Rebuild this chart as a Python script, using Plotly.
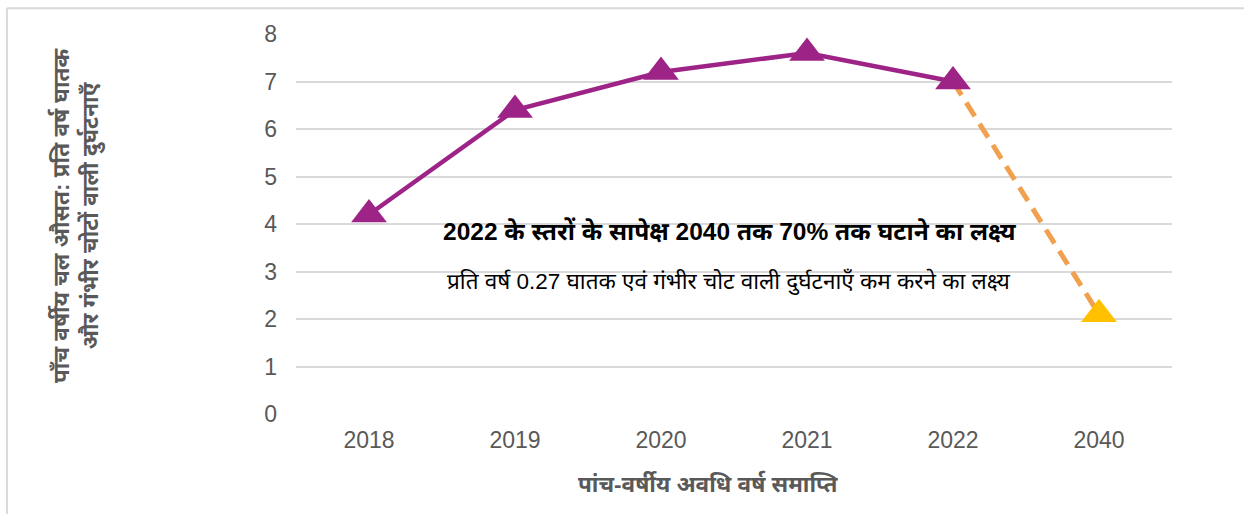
import plotly.graph_objects as go

categories = ["2018", "2019", "2020", "2021", "2022", "2040"]
actual_years = ["2018", "2019", "2020", "2021", "2022"]
actual_values = [4.2, 6.4, 7.2, 7.6, 7.0]
target_years = ["2022", "2040"]
target_values = [7.0, 2.1]
target_point_year = ["2040"]
target_point_value = [2.1]
y_ticks = [0, 1, 2, 3, 4, 5, 6, 7, 8]

title_main = "2022 के स्तरों के सापेक्ष 2040 तक 70% तक घटाने का लक्ष्य"
title_sub = "प्रति वर्ष 0.27 घातक एवं गंभीर चोट वाली दुर्घटनाएँ कम करने का लक्ष्य"
x_title = "पांच-वर्षीय अवधि वर्ष समाप्ति"
y_title = "पाँच वर्षीय चल औसत: प्रति वर्ष घातक<br>और गंभीर चोटों वाली दुर्घटनाएँ"

PURPLE = "#9E2387"
ORANGE = "#F0A04E"
YELLOW = "#FFC000"
GRAY = "#595959"
GRID = "#D9D9D9"

fig = go.Figure()
fig.add_trace(go.Scatter(
    x=target_years, y=target_values, mode="lines",
    line=dict(color=ORANGE, width=5, dash="16px,9px"),
    hoverinfo="skip", showlegend=False))
fig.add_trace(go.Scatter(
    x=actual_years, y=actual_values, mode="lines+markers",
    line=dict(color=PURPLE, width=4.5),
    marker=dict(symbol="triangle-up", size=31, color=PURPLE),
    showlegend=False))
fig.add_trace(go.Scatter(
    x=target_point_year, y=target_point_value, mode="markers",
    marker=dict(symbol="triangle-up", size=31, color=YELLOW),
    showlegend=False))

fig.update_layout(
    width=1244, height=514,
    margin=dict(l=296, r=72, t=34, b=100),
    paper_bgcolor="white", plot_bgcolor="white",
    font=dict(family="Liberation Sans, Arial, Noto Sans", color=GRAY, size=16),
    xaxis=dict(type="category", categoryorder="array", categoryarray=categories,
               range=[-0.5, 5.5], showgrid=False, zeroline=False, showline=False,
               ticks="", ticklabelstandoff=10,
               tickfont=dict(size=23, color=GRAY)),
    yaxis=dict(range=[0, 8], tickvals=y_ticks, showgrid=True, gridcolor=GRID,
               gridwidth=2, zeroline=False, showline=False, ticks="",
               ticklabelstandoff=18, tickfont=dict(size=23, color=GRAY)),
    annotations=[
        dict(text="<b>" + title_main + "</b>", x=0.495, y=0.482, xref="paper", yref="paper",
             showarrow=False, font=dict(size=24.5, color="black"), xanchor="center", yanchor="middle"),
        dict(text=title_sub, x=0.494, y=0.35, xref="paper", yref="paper",
             showarrow=False, font=dict(size=22.5, color="black"), xanchor="center", yanchor="middle"),
        dict(text="<b>" + x_title + "</b>", x=0.470, y=-0.182, xref="paper", yref="paper",
             showarrow=False, font=dict(size=22.5, color=GRAY), xanchor="center", yanchor="middle"),
        dict(text="<b>" + y_title + "</b>", x=-0.251, y=0.524, xref="paper", yref="paper",
             showarrow=False, textangle=-90, font=dict(size=22.5, color=GRAY),
             xanchor="center", yanchor="middle"),
    ],
    shapes=[
        dict(type="line", xref="paper", yref="paper", x0=-0.33, x1=1.09, y0=1.068, y1=1.068,
             line=dict(color=GRID, width=2)),
        dict(type="line", xref="paper", yref="paper", x0=-0.330, x1=-0.330, y0=1.068, y1=-0.3,
             line=dict(color=GRID, width=2)),
    ],
)

fig.write_html("out.html")
